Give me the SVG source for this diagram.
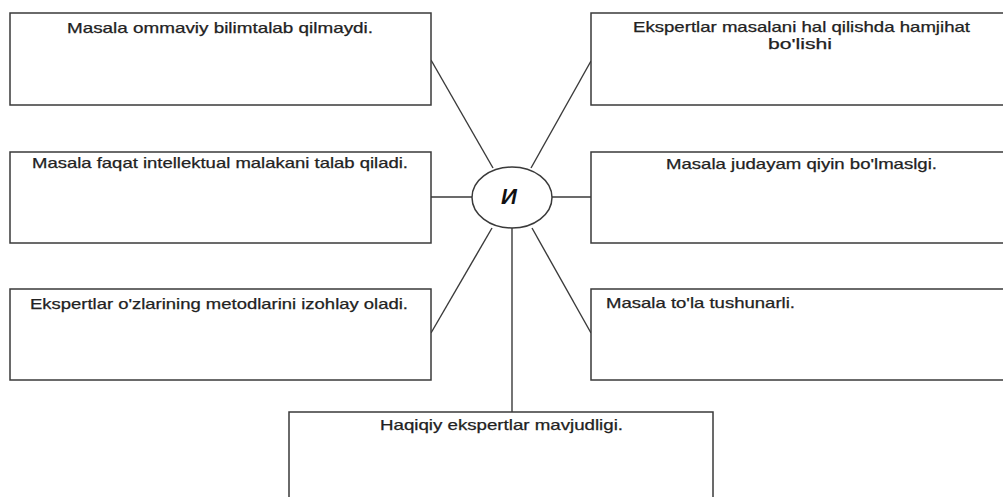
<svg xmlns="http://www.w3.org/2000/svg" width="1003" height="497" viewBox="0 0 1003 497">
<style>
.box{fill:#fff;stroke:#3a3a3a;stroke-width:1.5}
.ln{stroke:#3a3a3a;stroke-width:1.4;fill:none}
.t{font-family:"Liberation Sans",Arial,sans-serif;font-size:14.5px;fill:#222;stroke:#222;stroke-width:0.25}
.c{text-anchor:middle}
</style>
<rect width="1003" height="497" fill="#fff"/>
<g id="connectors">
<line class="ln" x1="431" y1="60" x2="493" y2="168"/>
<line class="ln" x1="591" y1="61" x2="531" y2="168"/>
<line class="ln" x1="431" y1="197" x2="472" y2="197"/>
<line class="ln" x1="552" y1="197" x2="591" y2="197"/>
<line class="ln" x1="492" y1="228" x2="431" y2="333"/>
<line class="ln" x1="532" y1="228" x2="591" y2="333"/>
<line class="ln" x1="512" y1="228" x2="512" y2="412"/>
</g>
<g id="center">
<ellipse class="box" cx="512" cy="197.5" rx="40" ry="30.5"/>
<text x="509" y="204" text-anchor="middle" font-family="'Liberation Sans',Arial,sans-serif" font-size="22" font-weight="bold" font-style="italic" fill="#111">И</text>
</g>
<g id="n1">
<rect class="box" x="10" y="13" width="421" height="92"/>
<text class="t c" x="220" y="33" textLength="306" lengthAdjust="spacingAndGlyphs">Masala ommaviy bilimtalab qilmaydi.</text>
</g>
<g id="n2">
<rect class="box" x="591" y="13" width="421" height="92"/>
<text class="t c" x="801.5" y="32" textLength="337" lengthAdjust="spacingAndGlyphs">Ekspertlar masalani hal qilishda hamjihat</text>
<text class="t c" x="800" y="49" textLength="64" lengthAdjust="spacingAndGlyphs">bo'lishi</text>
</g>
<g id="n3">
<rect class="box" x="10" y="152" width="421" height="91"/>
<text class="t c" x="220" y="168" textLength="376" lengthAdjust="spacingAndGlyphs">Masala faqat intellektual malakani talab qiladi.</text>
</g>
<g id="n4">
<rect class="box" x="591" y="152" width="421" height="91"/>
<text class="t c" x="801.5" y="169" textLength="271" lengthAdjust="spacingAndGlyphs">Masala judayam qiyin bo'lmaslgi.</text>
</g>
<g id="n5">
<rect class="box" x="10" y="289" width="421" height="91"/>
<text class="t c" x="219" y="309" textLength="378" lengthAdjust="spacingAndGlyphs">Ekspertlar o'zlarining metodlarini izohlay oladi.</text>
</g>
<g id="n6">
<rect class="box" x="591" y="289" width="421" height="91"/>
<text class="t" x="606" y="308" textLength="189" lengthAdjust="spacingAndGlyphs">Masala to'la tushunarli.</text>
</g>
<g id="n7">
<rect class="box" x="289" y="412" width="424" height="100"/>
<text class="t c" x="501.5" y="430" textLength="243" lengthAdjust="spacingAndGlyphs">Haqiqiy ekspertlar mavjudligi.</text>
</g>
</svg>
